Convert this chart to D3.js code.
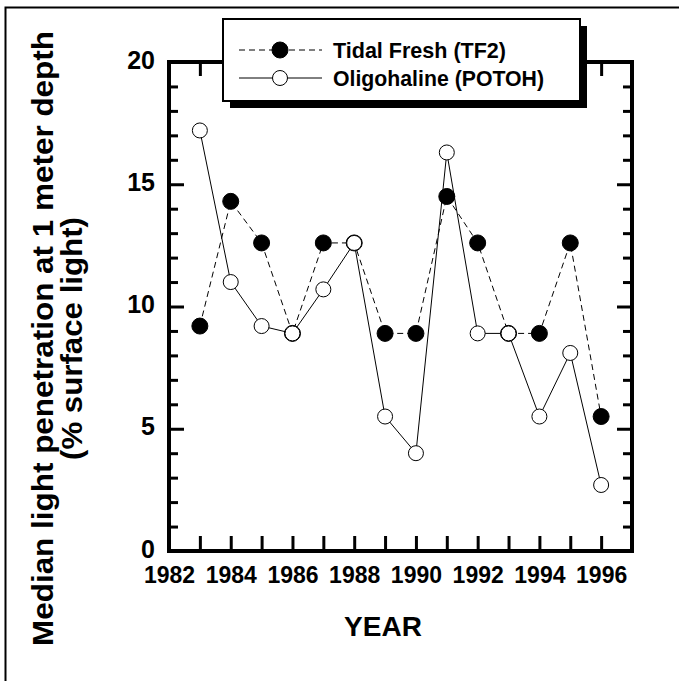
<!DOCTYPE html>
<html>
<head>
<meta charset="utf-8">
<script src="https://cdn.jsdelivr.net/npm/d3@7"></script>
<style>
  html, body { margin: 0; padding: 0; background: #fff; }
  svg { display: block; }
  text { font-family: "Liberation Sans", Arial, Helvetica, sans-serif; font-weight: bold; fill: #000; }
</style>
</head>
<body>
<svg id="chart" width="679" height="681"></svg>
<script>
// ---- Data ----
const years = [1983, 1984, 1985, 1986, 1987, 1988, 1989, 1990, 1991, 1992, 1993, 1994, 1995, 1996];
const tidalFresh = [9.2, 14.3, 12.6, 8.9, 12.6, 12.6, 8.9, 8.9, 14.5, 12.6, 8.9, 8.9, 12.6, 5.5];
const oligohaline = [17.2, 11.0, 9.2, 8.9, 10.7, 12.6, 5.5, 4.0, 16.3, 8.9, 8.9, 5.5, 8.1, 2.7];
const seriesNames = ["Tidal Fresh (TF2)", "Oligohaline (POTOH)"];
const xTickLabels = [1982, 1984, 1986, 1988, 1990, 1992, 1994, 1996];
const yTickLabels = [0, 5, 10, 15, 20];
const xLabel = "YEAR";
const yLabelLines = ["Median light penetration at 1 meter depth", "(% surface light)"];

// ---- Layout ----
const svg = d3.select("#chart");
const pLeft = 169, pRight = 632, pTop = 62, pBottom = 551;
const x = d3.scaleLinear().domain([1982, 1997]).range([pLeft, pRight]);
const y = d3.scaleLinear().domain([0, 20]).range([pBottom, pTop]);

// outer frame (only top and left edges visible)
svg.append("path")
  .attr("d", `M5.5,681 L5.5,7.5 L679,7.5`)
  .attr("fill", "none").attr("stroke", "#000").attr("stroke-width", 2);

const minorY = d3.range(0, 21, 1).filter(v => v % 5 !== 0);
const majorY = d3.range(0, 21, 5);
const xTickYears = d3.range(1983, 1997);

function styleAxis(g) {
  g.select(".domain").remove();
  g.selectAll(".tick line").attr("stroke", "#000").attr("stroke-width", 3);
}

// bottom ticks
svg.append("g").attr("transform", `translate(0,${pBottom})`)
  .call(d3.axisBottom(x).tickValues(xTickYears).tickSize(-15).tickFormat(""))
  .call(styleAxis);
// top ticks
svg.append("g").attr("transform", `translate(0,${pTop})`)
  .call(d3.axisTop(x).tickValues(xTickYears).tickSize(-14).tickFormat(""))
  .call(styleAxis);
// left ticks
svg.append("g").attr("transform", `translate(${pLeft},0)`)
  .call(d3.axisLeft(y).tickValues(majorY.filter(v => v > 0 && v < 20)).tickSize(-15).tickFormat(""))
  .call(styleAxis);
svg.append("g").attr("transform", `translate(${pLeft},0)`)
  .call(d3.axisLeft(y).tickValues(minorY).tickSize(-9).tickFormat(""))
  .call(styleAxis);
// right ticks
svg.append("g").attr("transform", `translate(${pRight},0)`)
  .call(d3.axisRight(y).tickValues(majorY.filter(v => v > 0 && v < 20)).tickSize(-15).tickFormat(""))
  .call(styleAxis);
svg.append("g").attr("transform", `translate(${pRight},0)`)
  .call(d3.axisRight(y).tickValues(minorY).tickSize(-9).tickFormat(""))
  .call(styleAxis);

// frame of plot
svg.append("rect")
  .attr("x", pLeft).attr("y", pTop)
  .attr("width", pRight - pLeft).attr("height", pBottom - pTop)
  .attr("fill", "none").attr("stroke", "#000").attr("stroke-width", 4);

// tick labels
const xl = svg.append("g").attr("transform", `translate(0,${pBottom})`)
  .call(d3.axisBottom(x).tickValues(xTickLabels).tickSize(0).tickPadding(16).tickFormat(d3.format("d")));
xl.select(".domain").remove();
xl.attr("font-family", null).attr("font-size", null);
xl.selectAll("text").style("font-size", "23px");

const yl = svg.append("g").attr("transform", `translate(${pLeft},-2)`)
  .call(d3.axisLeft(y).tickValues(yTickLabels).tickSize(0).tickPadding(14).tickFormat(d3.format("d")));
yl.select(".domain").remove();
yl.attr("font-family", null).attr("font-size", null);
yl.selectAll("text").style("font-size", "25px");

// axis titles
svg.append("text").attr("x", 383).attr("y", 636)
  .attr("text-anchor", "middle").style("font-size", "28px").text(xLabel);

const yLab = svg.append("g").attr("transform", `translate(0,338.5) rotate(-90)`);
yLab.append("text").attr("x", 0).attr("y", 53)
  .attr("text-anchor", "middle").style("font-size", "29px")
  .attr("textLength", 615).attr("lengthAdjust", "spacingAndGlyphs")
  .text(yLabelLines[0]);
yLab.append("text").attr("x", 0).attr("y", 82)
  .attr("text-anchor", "middle").style("font-size", "29px")
  .attr("textLength", 243).attr("lengthAdjust", "spacingAndGlyphs")
  .text(yLabelLines[1]);

// ---- Series ----
const line = d3.line().x(d => x(d[0])).y(d => y(d[1]));
const tf = years.map((yr, i) => [yr, tidalFresh[i]]);
const ol = years.map((yr, i) => [yr, oligohaline[i]]);

svg.append("path").datum(tf).attr("d", line)
  .attr("fill", "none").attr("stroke", "#000").attr("stroke-width", 1)
  .attr("stroke-dasharray", "6,4");
svg.selectAll("circle.tf").data(tf).join("circle").attr("class", "tf")
  .attr("cx", d => x(d[0])).attr("cy", d => y(d[1])).attr("r", 8)
  .attr("fill", "#000").attr("stroke", "#000");

svg.append("path").datum(ol).attr("d", line)
  .attr("fill", "none").attr("stroke", "#000").attr("stroke-width", 1);
svg.selectAll("circle.ol").data(ol).join("circle").attr("class", "ol")
  .attr("cx", d => x(d[0])).attr("cy", d => y(d[1])).attr("r", 7.5)
  .attr("fill", "#fff").attr("stroke", "#000").attr("stroke-width", 1);

// ---- Legend ----
const lg = svg.append("g");
lg.append("rect").attr("x", 230).attr("y", 26).attr("width", 357).attr("height", 82).attr("fill", "#000");
lg.append("rect").attr("x", 223).attr("y", 19).attr("width", 357).attr("height", 82)
  .attr("fill", "#fff").attr("stroke", "#000").attr("stroke-width", 2);

const rows = [
  { name: seriesNames[0], y: 50, dash: "6,4", fill: "#000", r: 8 },
  { name: seriesNames[1], y: 78, dash: null, fill: "#fff", r: 7.5 }
];
rows.forEach((r, i) => {
  lg.append("line").attr("x1", 239).attr("x2", 322).attr("y1", r.y).attr("y2", r.y)
    .attr("stroke", "#000").attr("stroke-width", 1).attr("stroke-dasharray", r.dash);
  lg.append("circle").attr("cx", 280).attr("cy", r.y).attr("r", r.r)
    .attr("fill", r.fill).attr("stroke", "#000").attr("stroke-width", 1);
  lg.append("text").attr("x", 333).attr("y", r.y + 7.5)
    .style("font-size", "22.5px")
    .attr("textLength", i === 0 ? 173 : 211).attr("lengthAdjust", "spacingAndGlyphs")
    .text(r.name);
});
</script>
</body>
</html>
